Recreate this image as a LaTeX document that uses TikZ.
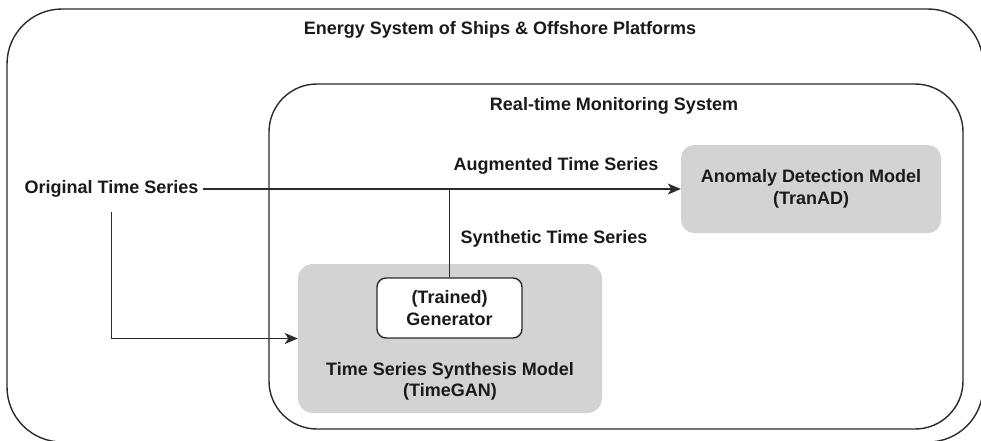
\documentclass[tikz,border=0pt]{standalone}
\usepackage{fontspec}
\setmainfont{Liberation Sans}
\usetikzlibrary{arrows.meta}
\definecolor{linec}{HTML}{2B2B2B}
\definecolor{boxgray}{HTML}{D3D3D3}
\definecolor{txt}{HTML}{1A1A1A}
\begin{document}
\begin{tikzpicture}[x=1pt,y=-1pt,
  font=\fontsize{18}{21.5}\selectfont\bfseries,
  lbl/.style={text=txt, inner sep=0pt, align=center},
  frame/.style={draw=linec, line width=1.4pt, rounded corners=#1, inner sep=0pt},
  graybox/.style={fill=boxgray, rounded corners=#1, inner sep=0pt, text=txt, align=center},
  genbox/.style={draw=linec, fill=white, line width=1.4pt, rounded corners=9pt, inner sep=0pt, text=txt, align=center},
  conn/.style={draw=linec, line width=1.4pt},
  arr/.style={conn, -{Stealth[length=13pt, width=11pt, inset=3.5pt]}}]
\useasboundingbox (0,0) rectangle (981,440);
\fill[white] (0,0) rectangle (981,440);
% containers
\node[frame=55pt, minimum width=976pt, minimum height=433pt] (outer) at (495,225.5) {};
\node[frame=48pt, minimum width=694pt, minimum height=345pt] (inner) at (616,256.5) {};
% titles
\node[lbl] (title) at (500,30) {Energy System of Ships \& Offshore Platforms};
\node[lbl] (rtm) at (614,106) {Real-time Monitoring System};
% boxes
\node[graybox=13pt, minimum width=260pt, minimum height=88pt] (anom) at (811,189)
  {Anomaly Detection Model\\(TranAD)};
\node[graybox=15pt, minimum width=304pt, minimum height=149pt] (timegan) at (450,338.5) {};
\node[lbl] (tgtext) at (450,381.5) {Time Series Synthesis Model\\(TimeGAN)};
\node[genbox, minimum width=145pt, minimum height=60pt] (gen) at (449.5,308) {(Trained)\\Generator};
% labels
\node[lbl, inner xsep=4pt] (orig) at (111.5,189) {Original Time Series};
\node[lbl] (aug) at (556,166) {Augmented Time Series};
\node[lbl] (syn) at (554,239) {Synthetic Time Series};
% connectors
\draw[arr] (orig.east) -- (anom.west);
\draw[conn] (gen.north) -- (gen.north |- anom.west);
\draw[arr] ([yshift=-14pt]orig.south) |- (timegan.west);
\end{tikzpicture}
\end{document}
